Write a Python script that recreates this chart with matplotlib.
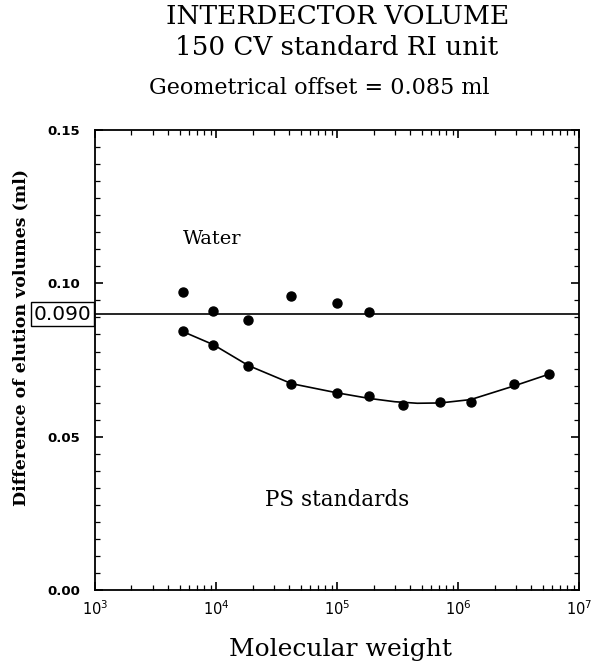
import numpy as np
import matplotlib
matplotlib.use("Agg")
import matplotlib.pyplot as plt
from matplotlib.ticker import MultipleLocator, LogLocator, FixedLocator, NullFormatter

plt.rcParams['mathtext.fontset'] = 'dejavuserif'

# water peak offsets
water_mw = [5.3e3, 9.5e3, 1.85e4, 4.2e4, 1.0e5, 1.83e5]
water_dv = [0.0973, 0.0911, 0.0882, 0.0958, 0.0935, 0.0906]

# polystyrene standards
ps_mw = [5.3e3, 9.5e3, 1.85e4, 4.2e4, 1.0e5, 1.83e5, 3.5e5, 7.1e5, 1.27e6, 2.87e6, 5.65e6]
ps_dv = [0.0843, 0.0800, 0.0730, 0.0671, 0.0642, 0.0634, 0.0603, 0.0614, 0.0614, 0.0673, 0.0704]

# smoothed trend through the PS standards
fit_mw = [5.3e3, 9.5e3, 1.85e4, 4.2e4, 1.0e5, 1.83e5, 3.0e5, 4.6e5, 7.1e5, 1.27e6, 2.87e6, 5.65e6]
fit_dv = [0.0843, 0.0800, 0.0732, 0.0673, 0.0643, 0.0625, 0.0614, 0.0609, 0.0610, 0.0621, 0.0665, 0.0704]

water_level = 0.090

fig = plt.figure(figsize=(5.94, 6.64), dpi=100)
ax = fig.add_axes([0.160, 0.1114, 0.815, 0.6928])

ax.plot(ps_mw, ps_dv, 'o', color='black', markersize=6.5, zorder=3)
ax.plot(water_mw, water_dv, 'o', color='black', markersize=6.5, zorder=3)
ax.plot(fit_mw, fit_dv, '-', color='black', linewidth=1.2)
ax.axhline(water_level, color='black', linewidth=1.2)

ax.set_xscale('log')
ax.set_xlim(1e3, 1e7)
ax.set_ylim(0.0, 0.15)

ax.yaxis.set_major_locator(FixedLocator([0.0, 0.05, 0.10, 0.15]))
ax.yaxis.set_minor_locator(MultipleLocator(0.05 / 9))
ax.yaxis.set_major_formatter(plt.FuncFormatter(lambda v, p: f"{v:.2f}"))
ax.xaxis.set_major_locator(LogLocator(base=10, numticks=10))
ax.xaxis.set_minor_locator(LogLocator(base=10, subs=np.arange(2, 10), numticks=20))
ax.xaxis.set_minor_formatter(NullFormatter())

ax.tick_params(which='both', direction='in', top=True, right=True, color='black')
ax.tick_params(which='major', length=6, width=1.2)
ax.tick_params(which='minor', length=3.5, width=0.9)
ax.tick_params(axis='y', labelsize=9.5, pad=10.5)
ax.tick_params(axis='x', labelsize=10.5, pad=7)
for lab in ax.get_yticklabels():
    lab.set_fontweight('bold')
for sp in ax.spines.values():
    sp.set_linewidth(1.3)

ax.set_ylabel('Difference of elution volumes (ml)', family='DejaVu Serif',
              fontweight='bold', fontsize=12.5)
ax.yaxis.set_label_coords(-0.135, 0.55)

fig.text(0.573, 0.012, 'Molecular weight', family='DejaVu Serif', fontsize=18,
         ha='center', va='baseline')

ax.text(5.3e3, 0.1143, 'Water', family='DejaVu Serif', fontsize=14, va='center', ha='left')
ax.text(1.0e5, 0.0295, 'PS standards', family='DejaVu Serif', fontsize=15.5,
        va='center', ha='center')

# boxed value of the water level on the y axis
ax.text(-0.008, water_level, '0.090', transform=ax.get_yaxis_transform(),
        ha='right', va='center', fontsize=14.5,
        bbox=dict(boxstyle='square,pad=0.12', facecolor='white', edgecolor='black', linewidth=1))

fig.text(0.569, 0.975, 'INTERDECTOR VOLUME', family='DejaVu Serif', fontsize=19,
         ha='center', va='center')
fig.text(0.566, 0.928, '150 CV standard RI unit', family='DejaVu Serif', fontsize=18.8,
         ha='center', va='center')
fig.text(0.537, 0.868, 'Geometrical offset = 0.085 ml', family='DejaVu Serif', fontsize=16,
         ha='center', va='center')

fig.savefig('out.png', dpi=100)
